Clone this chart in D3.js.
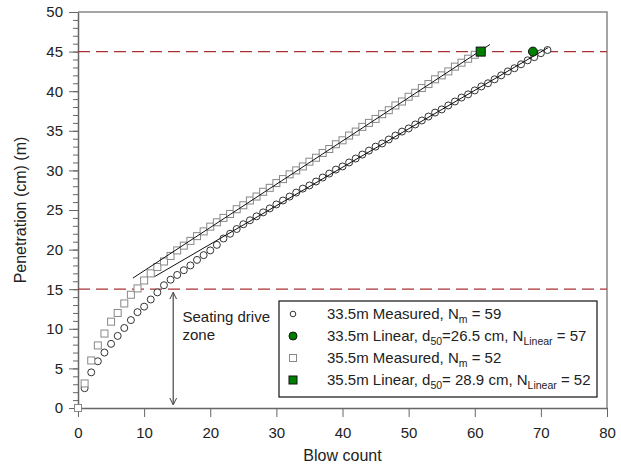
<!DOCTYPE html>
<html>
<head>
<meta charset="utf-8">
<script src="https://cdn.jsdelivr.net/npm/d3@7"></script>
<style>
  body { margin: 0; background: #fff; }
  svg { font-family: Arial, 'Liberation Sans', sans-serif; }
</style>
</head>
<body>
<div id="chart"></div>
<script>
// 33.5m measured (circles), one point per blow
const blows33 = d3.range(0, 72)
const pen33 = [0, 2.5, 4.5, 5.9, 7.0, 8.1, 9.1, 10.1, 11.1, 12.1,
  12.8, 13.7, 14.6, 15.5, 16.2, 16.8, 17.4, 18.0, 18.7, 19.3,
  19.9, 20.6, 21.4, 22.0, 22.6, 23.2, 23.7, 24.2, 24.7, 25.2,
  25.7, 26.2, 26.7, 27.2, 27.7, 28.1, 28.6, 29.1, 29.6, 30.1,
  30.5, 31.0, 31.5, 32.0, 32.5, 33.0, 33.4, 33.9, 34.4, 34.9,
  35.3, 35.8, 36.3, 36.8, 37.3, 37.7, 38.2, 38.7, 39.2, 39.6,
  40.1, 40.6, 41.0, 41.5, 42.0, 42.5, 42.9, 43.4, 43.9, 44.3,
  44.8, 45.2]

// 35.5m measured (squares)
const blows35 = d3.range(0, 61)
const pen35 = [0, 3.1, 6.0, 7.9, 9.4, 10.9, 12.0, 13.2, 14.3, 15.1,
  16.1, 17.0, 17.8, 18.5, 19.2, 19.9, 20.5, 21.1, 21.7, 22.3,
  22.9, 23.45, 24.0, 24.5, 25.1, 25.6, 26.2, 26.7, 27.3, 27.8,
  28.4, 28.9, 29.5, 30.0, 30.5, 31.1, 31.6, 32.2, 32.7, 33.3,
  33.8, 34.4, 34.9, 35.5, 36.0, 36.5, 37.1, 37.6, 38.2, 38.7,
  39.3, 39.8, 40.4, 40.9, 41.5, 42.0, 42.5, 43.1, 43.6, 44.1,
  44.6]

// linear fits (end points)
const fit33x = [11.6, 71.1]
const fit33y = [16.6, 45.5]
const fit35x = [8.3, 62.3]
const fit35y = [16.4, 45.9]

// linear blow count at d = 45 cm
const lin33 = [68.8, 45]
const lin35 = [60.9, 45]

// reference penetration levels
const refLevels = [45, 15]

const xTicks = d3.range(0, 81, 10)
const yTicks = d3.range(0, 51, 5)
const yMinor = d3.range(0, 51, 1)

const dimensions = {
  width: 621,
  height: 471,
  margin: { top: 12, right: 14, bottom: 63, left: 78 }
}

const svg = d3.select('#chart').append('svg')
  .attr('width', dimensions.width)
  .attr('height', dimensions.height)

const xScale = d3.scaleLinear()
  .domain([0, 80])
  .range([dimensions.margin.left, dimensions.width - dimensions.margin.right])
const yScale = d3.scaleLinear()
  .domain([0, 50])
  .range([dimensions.height - dimensions.margin.bottom, dimensions.margin.top])

const axisColor = '#666'

// frame (top / right)
svg.append('path')
  .attr('d', `M${xScale(0)},${yScale(50)}H${xScale(80)}V${yScale(0)}`)
  .attr('fill', 'none')
  .attr('stroke', '#888')
  .attr('stroke-width', 1.5)

// minor y ticks
svg.append('g')
  .attr('transform', `translate(${xScale(0)},0)`)
  .call(d3.axisLeft(yScale).tickValues(yMinor).tickSize(5).tickFormat(''))
  .call(g => g.select('.domain').remove())
  .call(g => g.selectAll('line').attr('stroke', axisColor))

const yAxis = svg.append('g')
  .attr('transform', `translate(${xScale(0)},0)`)
  .call(d3.axisLeft(yScale).tickValues(yTicks).tickSize(9).tickSizeOuter(0).tickPadding(6))
yAxis.select('.domain').attr('stroke', axisColor).attr('stroke-width', 1.5)
yAxis.selectAll('line').attr('stroke', axisColor)
yAxis.selectAll('text').attr('font-size', 15).attr('fill', '#222').attr('font-family', null)

const xAxis = svg.append('g')
  .attr('transform', `translate(0,${yScale(0)})`)
  .call(d3.axisBottom(xScale).tickValues(xTicks).tickSize(9).tickSizeOuter(0).tickPadding(10))
xAxis.select('.domain').attr('stroke', axisColor).attr('stroke-width', 1.5)
xAxis.selectAll('line').attr('stroke', axisColor)
xAxis.selectAll('text').attr('font-size', 15).attr('fill', '#222').attr('font-family', null)

// axis titles
svg.append('text')
  .attr('x', (xScale(0) + xScale(80)) / 2)
  .attr('y', 461)
  .attr('text-anchor', 'middle')
  .attr('font-size', 16)
  .attr('fill', '#222')
  .text('Blow count')

svg.append('text')
  .attr('transform', `translate(26,${(yScale(0) + yScale(50)) / 2}) rotate(-90)`)
  .attr('text-anchor', 'middle')
  .attr('font-size', 16)
  .attr('fill', '#222')
  .text('Penetration (cm) (m)')

// dashed reference lines
svg.append('g')
  .selectAll('line')
  .data(refLevels)
  .join('line')
  .attr('x1', xScale(0))
  .attr('x2', xScale(80))
  .attr('y1', d => yScale(d))
  .attr('y2', d => yScale(d))
  .attr('stroke', '#a83232')
  .attr('stroke-width', 1.2)
  .attr('stroke-dasharray', '12,6')

// seating drive zone arrow
const defs = svg.append('defs')
defs.append('marker')
  .attr('id', 'arrow')
  .attr('viewBox', '0 0 10 10')
  .attr('refX', 10)
  .attr('refY', 5)
  .attr('markerWidth', 7)
  .attr('markerHeight', 12)
  .attr('markerUnits', 'userSpaceOnUse')
  .attr('orient', 'auto-start-reverse')
  .append('path')
  .attr('d', 'M0,0L10,5L0,10')
  .attr('fill', 'none')
  .attr('stroke', '#555')
  .attr('stroke-width', 1.5)

svg.append('line')
  .attr('x1', xScale(14.4))
  .attr('x2', xScale(14.4))
  .attr('y1', yScale(14.6))
  .attr('y2', yScale(0.4))
  .attr('stroke', '#555')
  .attr('stroke-width', 1.3)
  .attr('marker-start', 'url(#arrow)')
  .attr('marker-end', 'url(#arrow)')

const zoneText = svg.append('text')
  .attr('font-size', 15)
  .attr('fill', '#222')
zoneText.append('tspan').attr('x', xScale(15.8)).attr('y', yScale(10.85)).text('Seating drive')
zoneText.append('tspan').attr('x', xScale(15.8)).attr('y', yScale(8.6)).text('zone')

// measured points
svg.append('g')
  .selectAll('circle')
  .data(d3.zip(blows33, pen33))
  .join('circle')
  .attr('cx', d => xScale(d[0]))
  .attr('cy', d => yScale(d[1]))
  .attr('r', 3.5)
  .attr('fill', 'white')
  .attr('stroke', '#333')
  .attr('stroke-width', 1)

const sq = 7
svg.append('g')
  .selectAll('rect')
  .data(d3.zip(blows35, pen35))
  .join('rect')
  .attr('x', d => xScale(d[0]) - sq / 2)
  .attr('y', d => yScale(d[1]) - sq / 2)
  .attr('width', sq)
  .attr('height', sq)
  .attr('fill', 'white')
  .attr('stroke', '#888')
  .attr('stroke-width', 1)

// linear fits, drawn over the points
const fitLine = d3.line()
  .x(d => xScale(d[0]))
  .y(d => yScale(d[1]))
svg.append('path')
  .attr('d', fitLine(d3.zip(fit35x, fit35y)))
  .attr('stroke', '#111')
  .attr('stroke-width', 1)
  .attr('fill', 'none')
svg.append('path')
  .attr('d', fitLine(d3.zip(fit33x, fit33y)))
  .attr('stroke', '#111')
  .attr('stroke-width', 1)
  .attr('fill', 'none')

// linear markers
svg.append('circle')
  .attr('cx', xScale(lin33[0]))
  .attr('cy', yScale(lin33[1]))
  .attr('r', 4.5)
  .attr('fill', '#008000')
  .attr('stroke', '#111')
svg.append('rect')
  .attr('x', xScale(lin35[0]) - 4.5)
  .attr('y', yScale(lin35[1]) - 4.5)
  .attr('width', 9)
  .attr('height', 9)
  .attr('fill', '#008000')
  .attr('stroke', '#111')

// legend
const legend = svg.append('g')
  .attr('transform', 'translate(279,301)')
legend.append('rect')
  .attr('width', 318)
  .attr('height', 96)
  .attr('fill', 'white')
  .attr('stroke', '#111')
  .attr('stroke-width', 1.2)

const rowY = [13, 35, 57, 79]
legend.append('circle').attr('cx', 14).attr('cy', rowY[0]).attr('r', 2.8)
  .attr('fill', 'white').attr('stroke', '#333')
legend.append('circle').attr('cx', 14).attr('cy', rowY[1]).attr('r', 4)
  .attr('fill', '#008000').attr('stroke', '#111')
legend.append('rect').attr('x', 10.5).attr('y', rowY[2] - 3.5).attr('width', 7).attr('height', 7)
  .attr('fill', 'white').attr('stroke', '#888')
legend.append('rect').attr('x', 10).attr('y', rowY[3] - 4).attr('width', 8).attr('height', 8)
  .attr('fill', '#008000').attr('stroke', '#111')

const labels = [
  [['33.5m Measured, N', ''], ['m', 'sub'], [' = 59', '']],
  [['33.5m Linear, d', ''], ['50', 'sub'], ['=26.5 cm, N', ''], ['Linear', 'sub'], [' = 57', '']],
  [['35.5m Measured, N', ''], ['m', 'sub'], [' = 52', '']],
  [['35.5m Linear, d', ''], ['50', 'sub'], ['= 28.9 cm, N', ''], ['Linear', 'sub'], [' = 52', '']]
]
labels.forEach((parts, i) => {
  const t = legend.append('text')
    .attr('x', 48)
    .attr('y', rowY[i] + 5)
    .attr('font-size', 15)
    .attr('fill', '#222')
  let sub = false
  parts.forEach(p => {
    const ts = t.append('tspan').text(p[0])
    if (p[1] === 'sub' && !sub) {
      ts.attr('dy', 4).attr('font-size', 10.5)
      sub = true
    } else if (p[1] !== 'sub' && sub) {
      ts.attr('dy', -4)
      sub = false
    }
  })
})
</script>
</body>
</html>
